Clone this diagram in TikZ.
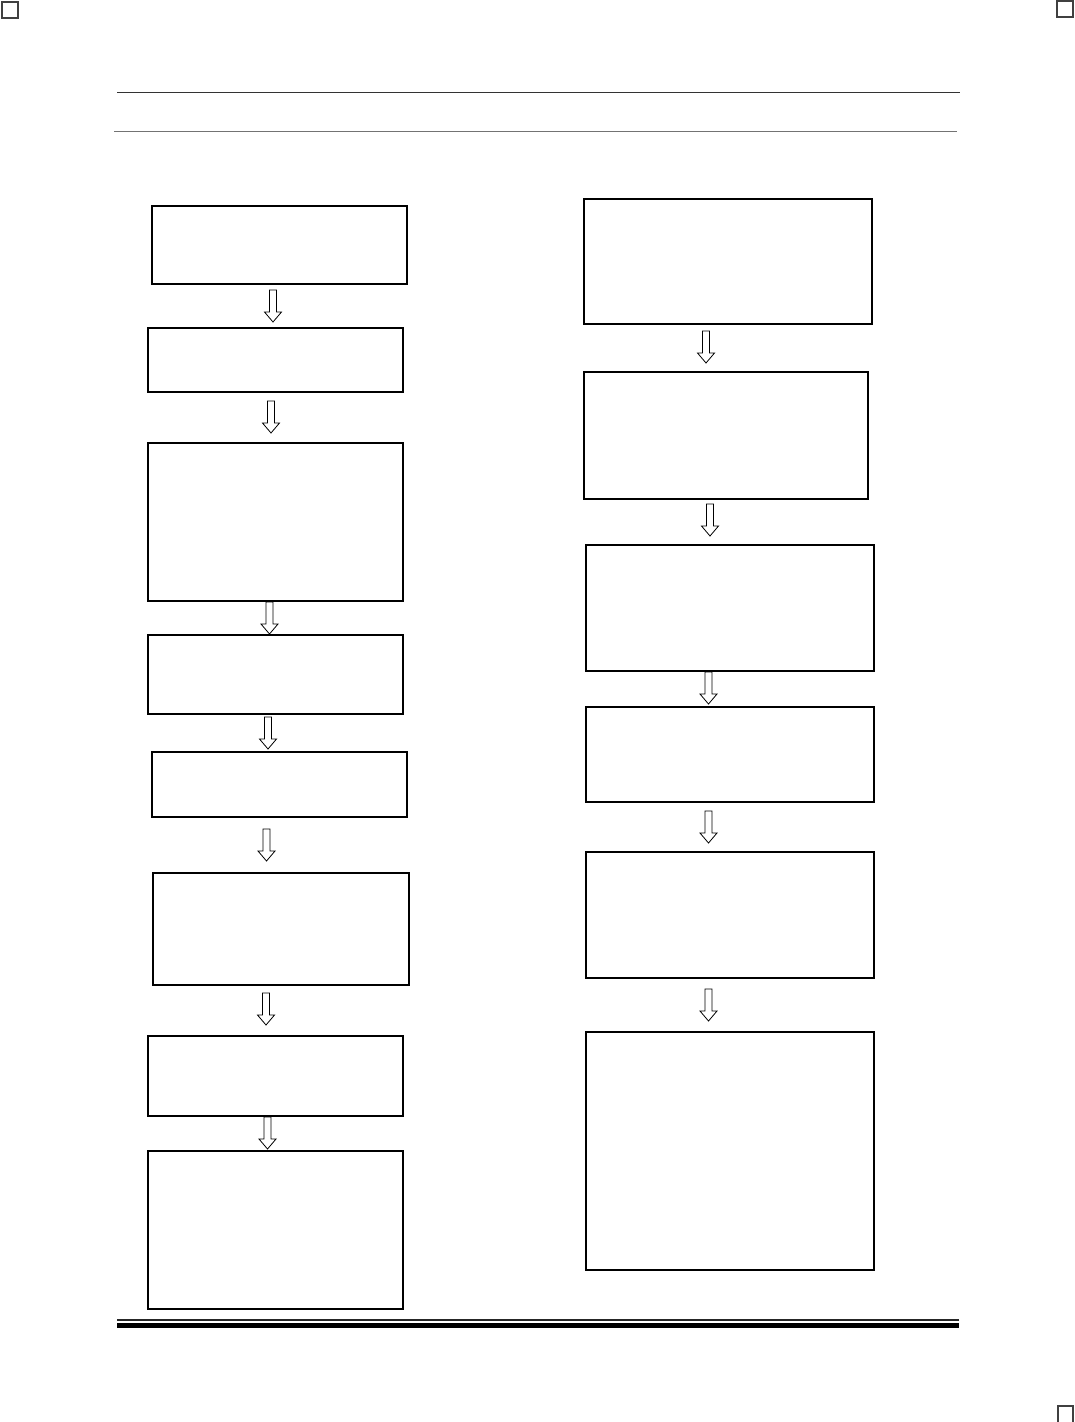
\documentclass[tikz,border=0pt]{standalone}
\usepackage{tikz}
\tikzset{
  box/.style={draw=black, line width=1.4pt, fill=white, inner sep=0pt, outer sep=0pt},
  harrow/.pic={\draw[line width=0.8pt, fill=white, line join=miter]
     (-3.5,0) -- (-3.5,22) -- (-8.5,22) -- (0,32) -- (8.5,22) -- (3.5,22) -- (3.5,0) -- cycle;},
  corner/.style={draw=black!75, line width=1.3pt}
}
\newcommand\mybox[5]{\node[box, minimum width={(#4-#2)*1pt}, minimum height={(#5-#3)*1pt}] (#1) at ({(#2+#4)/2},{(#3+#5)/2}) {};}
\begin{document}
\begin{tikzpicture}[x=1pt,y=-1pt]
\useasboundingbox (0,0) rectangle (1075,1422);
% corner marks
\draw[corner] (2,2) rectangle (18,18);
\draw[corner] (1057,1) rectangle (1073,17);
\draw[corner] (1058,1423) -- (1058,1406) -- (1073,1406) -- (1073,1423);
% header rules
\draw[black!80, line width=1pt] (117,92.3) -- (960,92.3);
\draw[black!55, line width=1.8pt] (114,131.5) -- (957,131.5);
% footer rules
\draw[black!85, line width=1.5pt] (117,1320) -- (959,1320);
\draw[black, line width=5pt] (117,1325.5) -- (959,1325.5);
% left column
\mybox{L1}{152}{206}{407}{284}
\mybox{L2}{148}{328}{403}{392}
\mybox{L3}{148}{443}{403}{601}
\mybox{L4}{148}{635}{403}{714}
\mybox{L5}{152}{752}{407}{817}
\mybox{L6}{153}{873}{409}{985}
\mybox{L7}{148}{1036}{403}{1116}
\mybox{L8}{148}{1151}{403}{1309}
% right column
\mybox{R1}{584}{199}{872}{324}
\mybox{R2}{584}{372}{868}{499}
\mybox{R3}{586}{545}{874}{671}
\mybox{R4}{586}{707}{874}{802}
\mybox{R5}{586}{852}{874}{978}
\mybox{R6}{586}{1032}{874}{1270}
% arrows left
\pic at (273,290) {harrow};
\pic at (271,401) {harrow};
\pic at (269.5,602) {harrow};
\pic at (268,717) {harrow};
\pic at (266.5,829) {harrow};
\pic at (266,993) {harrow};
\pic at (267.5,1117) {harrow};
% arrows right
\pic at (706,331) {harrow};
\pic at (710,504) {harrow};
\pic at (708.5,672) {harrow};
\pic at (708.5,811) {harrow};
\pic at (708.5,989) {harrow};
\end{tikzpicture}
\end{document}
